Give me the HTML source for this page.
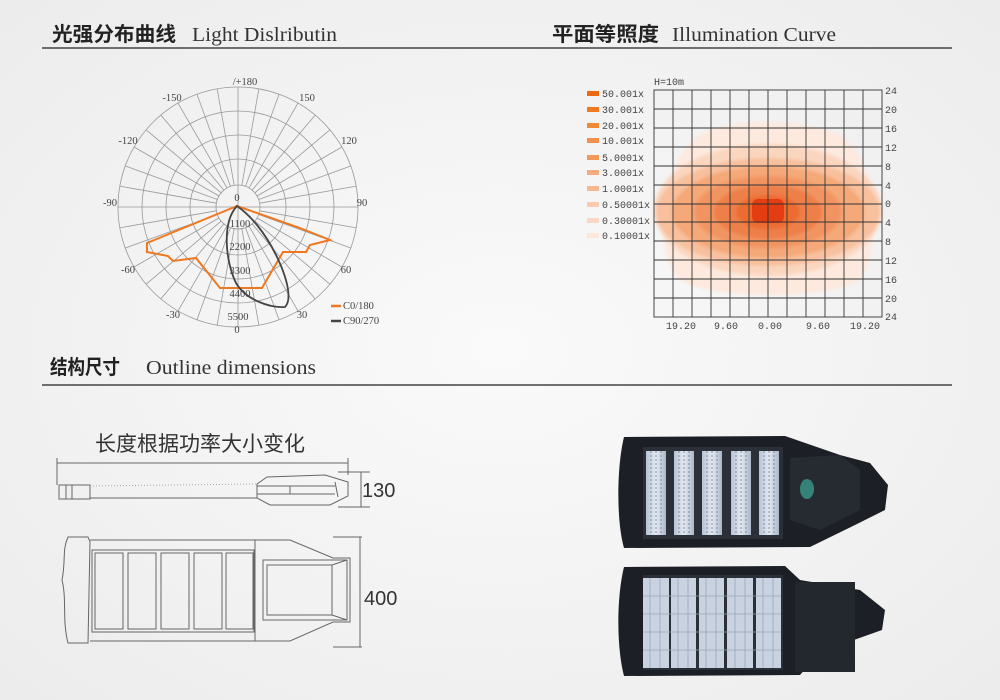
<!DOCTYPE html>
<html><head><meta charset="utf-8"><style>
body{margin:0;width:1000px;height:700px;overflow:hidden;background:#f4f4f4;}
svg{display:block}
.cj{font-family:"Liberation Sans","Noto Sans CJK SC",sans-serif;font-weight:bold;font-size:20px;fill:#222}
.en{font-family:"Liberation Serif",serif;font-size:20px;fill:#333}
.m{font-family:"Liberation Mono","DejaVu Sans Mono",monospace;font-size:10px;fill:#444}
.s{font-family:"Liberation Serif",serif;font-size:10.5px;fill:#444}
</style></head><body>
<svg width="1000" height="700" viewBox="0 0 1000 700">
<defs>
<radialGradient id="bg" cx="50%" cy="50%" r="70%"><stop offset="0" stop-color="#fafafa"/><stop offset="1" stop-color="#ececec"/></radialGradient>
<filter id="bl"><feGaussianBlur stdDeviation="1.5"/></filter>
<linearGradient id="pn" x1="0" y1="0" x2="1" y2="0"><stop offset="0" stop-color="#b7c3d6"/><stop offset="0.5" stop-color="#e4e9f2"/><stop offset="1" stop-color="#aab6c8"/></linearGradient>
</defs>
<rect width="1000" height="700" fill="url(#bg)"/>
<!-- headers -->
<text x="52" y="41" class="cj" textLength="124" lengthAdjust="spacingAndGlyphs">光强分布曲线</text><text x="192" y="41" class="en" textLength="145" lengthAdjust="spacingAndGlyphs">Light Dislributin</text>
<text x="552" y="41" class="cj" textLength="107" lengthAdjust="spacingAndGlyphs">平面等照度</text><text x="672" y="41" class="en" textLength="164" lengthAdjust="spacingAndGlyphs">Illumination Curve</text>
<line x1="42" y1="48" x2="952" y2="48" stroke="#444" stroke-width="1.5"/>
<text x="50" y="374" class="cj" textLength="70" lengthAdjust="spacingAndGlyphs">结构尺寸</text><text x="146" y="374" class="en" textLength="170" lengthAdjust="spacingAndGlyphs">Outline dimensions</text>
<line x1="42" y1="385" x2="952" y2="385" stroke="#444" stroke-width="1.5"/>

<!-- polar -->
<g fill="none" stroke="#999" stroke-width="0.8">
<circle cx="238" cy="207" r="120"/><circle cx="238" cy="207" r="96"/><circle cx="238" cy="207" r="72"/><circle cx="238" cy="207" r="48"/><circle cx="238" cy="207" r="22"/>
<line x1="118" y1="207" x2="358" y2="207"/><line x1="238" y1="87" x2="238" y2="327"/>
<g id="sp">
<line x1="260" y1="207" x2="358" y2="207" transform="rotate(10 238 207)"/>
<line x1="260" y1="207" x2="358" y2="207" transform="rotate(20 238 207)"/>
<line x1="260" y1="207" x2="358" y2="207" transform="rotate(30 238 207)"/>
<line x1="260" y1="207" x2="358" y2="207" transform="rotate(40 238 207)"/>
<line x1="260" y1="207" x2="358" y2="207" transform="rotate(50 238 207)"/>
<line x1="260" y1="207" x2="358" y2="207" transform="rotate(60 238 207)"/>
<line x1="260" y1="207" x2="358" y2="207" transform="rotate(70 238 207)"/>
<line x1="260" y1="207" x2="358" y2="207" transform="rotate(80 238 207)"/>
</g>
<use href="#sp" transform="rotate(90 238 207)"/><use href="#sp" transform="rotate(180 238 207)"/><use href="#sp" transform="rotate(270 238 207)"/>
</g>
<g class="s" text-anchor="middle">
<text x="245" y="85">/+180</text><text x="172" y="101">-150</text><text x="307" y="101">150</text>
<text x="128" y="144">-120</text><text x="349" y="144">120</text><text x="110" y="206">-90</text><text x="362" y="206">90</text>
<text x="128" y="273">-60</text><text x="346" y="273">60</text><text x="173" y="318">-30</text><text x="302" y="318">30</text>
<text x="237" y="333">0</text><text x="237" y="201">0</text>
<text x="240" y="227">1100</text><text x="240" y="250">2200</text><text x="240" y="274">3300</text><text x="240" y="297">4400</text><text x="238" y="320">5500</text>
</g>
<path d="M237,206 L147,243 L147,252 L168,256 L173,261 L196,258 L220,288 L262,288 L283,252 L306,252 L310,245 L330,240 L300,228 Z" fill="none" stroke="#f07820" stroke-width="2"/>
<path d="M237,206 C222,222 225,260 236,283 C246,300 270,308 285,307 C292,300 288,280 277,257 C265,232 250,215 237,206 Z" fill="none" stroke="#444" stroke-width="1.8"/>
<line x1="331" y1="306" x2="341" y2="306" stroke="#f07820" stroke-width="2.5"/><text x="343" y="309" class="s">C0/180</text>
<line x1="331" y1="321" x2="341" y2="321" stroke="#444" stroke-width="2.5"/><text x="343" y="324" class="s">C90/270</text>

<!-- heatmap -->
<g filter="url(#bl)">
<path d="M700 135 C730 118 800 118 840 135 C880 160 882 250 860 280 C830 300 710 300 680 280 C650 250 660 160 700 135 Z" fill="#fde9de"/>
<ellipse cx="768" cy="210" rx="114" ry="66" fill="#fbd6bf"/>
<ellipse cx="768" cy="212" rx="112" ry="54" fill="#f8c09c"/>
<ellipse cx="768" cy="212" rx="96" ry="46" fill="#f5a878"/>
<ellipse cx="768" cy="212" rx="74" ry="36" fill="#f29462"/>
<ellipse cx="768" cy="212" rx="54" ry="27" fill="#ee7f48"/>
<ellipse cx="768" cy="212" rx="32" ry="17" fill="#ec6c30"/>
</g>
<rect x="752" y="199" width="32" height="24" rx="6" fill="#e53d12"/>
<g stroke="#333" stroke-width="0.9" fill="none">
<rect x="654" y="90" width="228" height="227"/>
<path d="M673 90V317M692 90V317M711 90V317M730 90V317M749 90V317M768 90V317M787 90V317M806 90V317M825 90V317M844 90V317M863 90V317"/>
<path d="M654 109H882M654 128H882M654 147H882M654 166H882M654 185H882M654 204H882M654 222H882M654 241H882M654 260H882M654 279H882M654 298H882"/>
</g>
<g class="m"><text x="654" y="85">H=10m</text>
<text x="885" y="94">24</text><text x="885" y="113">20</text><text x="885" y="132">16</text><text x="885" y="151">12</text><text x="885" y="170">8</text><text x="885" y="189">4</text><text x="885" y="207">0</text><text x="885" y="226">4</text><text x="885" y="245">8</text><text x="885" y="264">12</text><text x="885" y="283">16</text><text x="885" y="302">20</text><text x="885" y="320">24</text>
<text x="666" y="329">19.20</text><text x="714" y="329">9.60</text><text x="758" y="329">0.00</text><text x="806" y="329">9.60</text><text x="850" y="329">19.20</text>
<rect x="587" y="91" width="12" height="5" fill="#ec6a10"/><text x="602" y="97">50.001x</text>
<rect x="587" y="107" width="12" height="5" fill="#ef7a20"/><text x="602" y="113">30.001x</text>
<rect x="587" y="123" width="12" height="5" fill="#f08a38"/><text x="602" y="129">20.001x</text>
<rect x="587" y="138" width="12" height="5" fill="#f0904c"/><text x="602" y="144">10.001x</text>
<rect x="587" y="155" width="12" height="5" fill="#f19a5c"/><text x="602" y="161">5.0001x</text>
<rect x="587" y="170" width="12" height="5" fill="#f5ad80"/><text x="602" y="176">3.0001x</text>
<rect x="587" y="186" width="12" height="5" fill="#f6b890"/><text x="602" y="192">1.0001x</text>
<rect x="587" y="202" width="12" height="5" fill="#f9cab0"/><text x="602" y="208">0.50001x</text>
<rect x="587" y="218" width="12" height="5" fill="#fbd8c6"/><text x="602" y="224">0.30001x</text>
<rect x="587" y="233" width="12" height="5" fill="#fde6da"/><text x="602" y="239">0.10001x</text>
</g>

<!-- drawings -->
<text x="95" y="451" font-family="'Liberation Sans','Noto Sans CJK SC',sans-serif" font-size="21" fill="#333">长度根据功率大小变化</text>
<g stroke="#666" stroke-width="1" fill="none">
<line x1="57" y1="463" x2="348" y2="463"/><line x1="57" y1="458" x2="57" y2="485"/><line x1="348" y1="458" x2="348" y2="475"/>
<rect x="59" y="485" width="31" height="14"/><line x1="66" y1="485" x2="66" y2="499"/><line x1="72" y1="485" x2="72" y2="499"/>
<line x1="90" y1="498" x2="257" y2="498"/>
<path d="M90 486 L257 484" stroke="#aaa" stroke-dasharray="1 2"/>
<path d="M257 484 L267 477 L325 475 L348 482 L348 496 L330 505 L270 505 L257 498 Z"/>
<line x1="257" y1="486" x2="335" y2="486"/><line x1="257" y1="494" x2="335" y2="494"/><line x1="290" y1="486" x2="290" y2="494"/><path d="M335 482 L338 497"/>
<line x1="338" y1="472" x2="370" y2="472"/><line x1="338" y1="507" x2="370" y2="507"/><line x1="361" y1="472" x2="361" y2="507"/>
<path d="M68 537 L88 537 L90 542 L88 643 L68 643 C62 620 67 600 62 580 C66 560 62 550 68 537 Z"/>
<line x1="90" y1="540" x2="255" y2="540"/><line x1="90" y1="641" x2="255" y2="641"/>
<rect x="92" y="550" width="162" height="82"/>
<rect x="95" y="553" width="28" height="76"/><rect x="128" y="553" width="28" height="76"/><rect x="161" y="553" width="28" height="76"/><rect x="194" y="553" width="28" height="76"/><rect x="226" y="553" width="27" height="76"/>
<path d="M255 540 L290 540 L333 558 L350 558 L350 622 L333 622 L290 641 L255 641 Z"/>
<rect x="263" y="560" width="84" height="60"/><rect x="267" y="565" width="65" height="50"/>
<line x1="332" y1="565" x2="347" y2="560"/><line x1="332" y1="615" x2="347" y2="620"/>
<line x1="333" y1="537" x2="362" y2="537"/><line x1="333" y1="647" x2="362" y2="647"/><line x1="360" y1="537" x2="360" y2="647"/>
</g>
<text x="362" y="497" font-family="'Liberation Sans',sans-serif" font-size="20" fill="#333">130</text>
<text x="364" y="605" font-family="'Liberation Sans',sans-serif" font-size="20" fill="#333">400</text>

<!-- photo 1 -->
<g>
<path d="M624 437 L785 436 L840 455 L870 463 L888 485 L885 510 L855 525 L810 547 L624 548 C616 520 617 465 624 437 Z" fill="#1c2026"/>
<path d="M790 458 L840 455 L860 470 L860 510 L820 530 L790 520 Z" fill="#262b32"/>
<ellipse cx="807" cy="489" rx="7" ry="10" fill="#3a9a8a" opacity="0.8"/>
<rect x="643" y="447" width="140" height="92" fill="#2b3038"/>
<g fill="url(#pn)"><rect x="646" y="451" width="20" height="84"/><rect x="674" y="451" width="20" height="84"/><rect x="702" y="451" width="20" height="84"/><rect x="731" y="451" width="20" height="84"/><rect x="759" y="451" width="20" height="84"/></g>
<g stroke="#6c7a90" stroke-width="0.8" stroke-dasharray="2 2"><path d="M651 451V535M656 451V535M661 451V535M679 451V535M684 451V535M689 451V535M707 451V535M712 451V535M717 451V535M736 451V535M741 451V535M746 451V535M764 451V535M769 451V535M774 451V535"/></g>
</g>
<!-- photo 2 -->
<g>
<path d="M624 567 L785 566 L800 580 L860 590 L885 610 L882 630 L820 652 L800 675 L624 676 C616 645 617 595 624 567 Z" fill="#1c2026"/>
<rect x="795" y="582" width="60" height="90" fill="#23282e"/>
<rect x="643" y="575" width="140" height="95" fill="#2b3038"/>
<g fill="#c8d2e0"><rect x="643" y="578" width="26" height="90"/><rect x="671" y="578" width="25" height="90"/><rect x="699" y="578" width="25" height="90"/><rect x="727" y="578" width="26" height="90"/><rect x="756" y="578" width="25" height="90"/></g>
<g stroke="#9aa6b8" stroke-width="0.8"><path d="M643 596H781M643 614H781M643 632H781M643 650H781M650 578V668M660 578V668M678 578V668M688 578V668M706 578V668M716 578V668M735 578V668M745 578V668M763 578V668M773 578V668"/></g>
</g>
</svg>
</body></html>
